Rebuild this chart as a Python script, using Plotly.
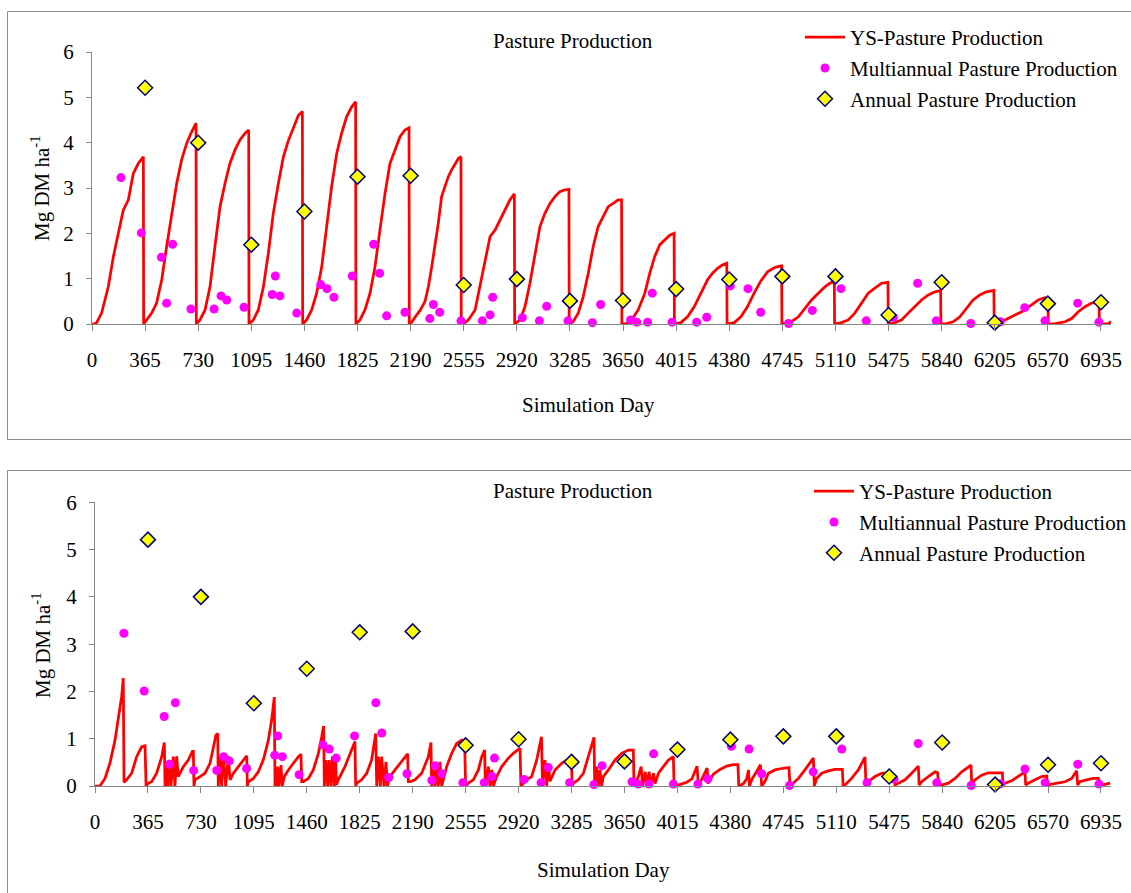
import plotly.graph_objects as go

# ---------------- data ----------------
x_ticks = [0, 365, 730, 1095, 1460, 1825, 2190, 2555, 2920, 3285, 3650,
           4015, 4380, 4745, 5110, 5475, 5840, 6205, 6570, 6935]

# YS-Pasture Production, upper panel (day, Mg DM/ha)
top_line_day = [0, 15, 32, 66, 112, 147, 181, 215, 250, 284, 318, 353, 355,
                376, 410, 444, 479, 513, 548, 582, 616, 651, 685, 715, 717,
                742, 777, 811, 845, 880, 914, 948, 983, 1017, 1052, 1077, 1079,
                1109, 1143, 1178, 1212, 1246, 1281, 1315, 1349, 1384, 1418, 1446, 1448,
                1475, 1510, 1544, 1579, 1613, 1647, 1682, 1716, 1750, 1785, 1812, 1814,
                1842, 1876, 1911, 1945, 1979, 2014, 2048, 2083, 2117, 2151, 2179, 2181,
                2200, 2220, 2255, 2289, 2312, 2335, 2357, 2380, 2403, 2426, 2449, 2472, 2495, 2518, 2536, 2538,
                2560, 2587, 2633, 2667, 2701, 2736, 2770, 2804, 2839, 2873, 2903, 2905,
                2942, 2976, 3010, 3045, 3079, 3113, 3148, 3182, 3216, 3251, 3278, 3280,
                3307, 3342, 3376, 3411, 3445, 3479, 3514, 3548, 3582, 3617, 3640, 3642,
                3674, 3708, 3754, 3800, 3834, 3868, 3903, 3937, 3971, 4001, 4003,
                4047, 4093, 4139, 4184, 4230, 4265, 4299, 4333, 4363, 4365,
                4414, 4460, 4505, 4551, 4597, 4643, 4689, 4720, 4740, 4742,
                4798, 4855, 4900, 4946, 4992, 5038, 5072, 5102, 5104,
                5152, 5198, 5243, 5289, 5335, 5381, 5427, 5471, 5473,
                5519, 5565, 5610, 5656, 5702, 5748, 5794, 5833, 5835,
                5873, 5919, 5965, 6011, 6056, 6102, 6148, 6199, 6201,
                6252, 6321, 6390, 6458, 6504, 6550, 6571, 6573,
                6619, 6688, 6733, 6779, 6825, 6871, 6922, 6924, 6940, 6986, 7004]
top_line_val = [0, 0, 0.03, 0.24, 0.82, 1.49, 2.0, 2.51, 2.74, 3.32, 3.54, 3.69, 0,
                0.09, 0.24, 0.46, 0.97, 1.71, 2.44, 3.1, 3.62, 3.99, 4.24, 4.43, 0,
                0.09, 0.31, 0.82, 1.71, 2.59, 3.1, 3.54, 3.84, 4.06, 4.21, 4.28, 0,
                0.09, 0.31, 0.82, 1.56, 2.44, 3.1, 3.68, 4.04, 4.34, 4.6, 4.69, 0,
                0.09, 0.31, 0.68, 1.26, 2.15, 3.03, 3.76, 4.21, 4.57, 4.79, 4.9, 0,
                0.09, 0.31, 0.68, 1.26, 2.07, 2.88, 3.54, 3.84, 4.13, 4.28, 4.33, 0,
                0.05, 0.15, 0.3, 0.5, 0.82, 1.26, 1.71, 2.22, 2.81, 3.03, 3.25, 3.4, 3.54, 3.65, 3.69, 0,
                0.02, 0.09, 0.31, 0.82, 1.41, 1.93, 2.07, 2.29, 2.51, 2.74, 2.87, 0,
                0.09, 0.38, 0.9, 1.56, 2.15, 2.44, 2.66, 2.81, 2.92, 2.96, 2.97, 0,
                0.05, 0.24, 0.6, 1.12, 1.71, 2.15, 2.37, 2.59, 2.66, 2.74, 2.74, 0,
                0.01, 0.09, 0.31, 0.68, 1.12, 1.49, 1.75, 1.85, 1.96, 2.0, 0,
                0.03, 0.16, 0.38, 0.68, 0.97, 1.12, 1.23, 1.3, 1.34, 0,
                0.03, 0.16, 0.38, 0.68, 0.95, 1.15, 1.24, 1.27, 1.28, 0,
                0.03, 0.16, 0.35, 0.53, 0.68, 0.82, 0.9, 0.95, 0,
                0.03, 0.09, 0.24, 0.46, 0.68, 0.79, 0.9, 0.92, 0,
                0.03, 0.09, 0.24, 0.38, 0.53, 0.64, 0.71, 0.74, 0,
                0.01, 0.05, 0.16, 0.35, 0.53, 0.64, 0.71, 0.74, 0,
                0.05, 0.16, 0.27, 0.42, 0.53, 0.58, 0.57, 0,
                0.01, 0.05, 0.12, 0.27, 0.38, 0.46, 0.48, 0, 0, 0.01, 0.05]

# YS-Pasture Production, lower panel (day, Mg DM/ha)
bottom_line_day = [0, 34, 69, 103, 138, 161, 184, 195, 200,
                   218, 253, 287, 322, 345, 352,
                   368, 391, 425, 460, 478, 483,
                   494, 501, 517, 524, 540, 551, 563, 574, 609, 643, 671, 678, 682,
                   689, 724, 758, 793, 816, 834, 846, 850,
                   862, 873, 885, 901, 919, 931, 954, 988, 1023, 1046, 1050,
                   1057, 1092, 1126, 1160, 1195, 1218, 1236, 1241,
                   1246, 1252, 1259, 1268, 1282, 1291, 1305, 1333, 1367, 1402, 1420, 1425,
                   1436, 1471, 1505, 1540, 1563, 1576, 1581,
                   1590, 1604, 1613, 1627, 1636, 1650, 1659, 1664, 1677, 1723, 1769, 1792, 1797,
                   1804, 1838, 1873, 1907, 1935, 1942,
                   1953, 1967, 1976, 1992, 2006, 2015, 2034, 2068, 2103, 2137, 2155, 2160,
                   2172, 2206, 2252, 2298, 2316, 2321,
                   2332, 2344, 2355, 2367, 2378, 2390, 2401, 2424, 2459, 2493, 2528, 2548, 2555,
                   2574, 2608, 2643, 2666, 2686, 2691,
                   2700, 2712, 2723, 2735, 2746,
                   2769, 2804, 2850, 2884, 2930, 2936,
                   2976, 3010, 3045, 3066, 3078, 3085,
                   3102, 3114, 3125, 3137, 3171, 3217, 3252, 3284, 3290,
                   3298, 3332, 3367, 3401, 3424, 3440, 3445,
                   3459, 3470, 3481, 3493, 3504, 3539, 3585, 3631, 3677, 3711, 3716,
                   3746, 3765, 3775, 3793, 3804, 3820, 3834, 3850, 3861, 3884, 3918, 3953, 3987, 3992,
                   4030, 4080, 4115, 4150, 4160, 4182, 4220, 4226, 4263, 4309, 4355, 4400, 4432, 4438,
                   4470, 4493, 4505, 4511, 4530, 4560, 4587, 4596,
                   4619, 4642, 4688, 4734, 4784, 4791,
                   4814, 4849, 4894, 4929, 4952, 4959,
                   4975, 5009, 5055, 5101, 5152, 5157,
                   5170, 5216, 5262, 5308, 5315,
                   5331, 5377, 5423, 5469, 5504, 5515,
                   5538, 5584, 5630, 5676, 5681,
                   5699, 5745, 5791, 5809, 5814,
                   5837, 5883, 5929, 5975, 6039, 6044,
                   6066, 6112, 6158, 6204, 6255, 6260,
                   6274, 6319, 6365, 6411, 6416,
                   6434, 6480, 6526, 6561, 6566,
                   6595, 6641, 6687, 6733, 6767, 6774,
                   6790, 6836, 6882, 6917, 6924,
                   6940, 6974, 6998]
bottom_line_val = [0, 0, 0.16, 0.48, 0.97, 1.4, 1.9, 2.28, 0.08,
                   0.13, 0.27, 0.62, 0.83, 0.85, 0,
                   0.06, 0.09, 0.27, 0.62, 0.92, 0,
                   0.48, 0, 0.55, 0, 0.62, 0, 0.63, 0.2, 0.41, 0.55, 0.73, 0.73, 0,
                   0.13, 0.2, 0.27, 0.48, 0.83, 1.08, 1.11, 0,
                   0.62, 0, 0.66, 0, 0.63, 0.13, 0.27, 0.41, 0.55, 0.64, 0,
                   0.09, 0.16, 0.3, 0.55, 0.97, 1.4, 1.88, 0,
                   0.37, 0, 0.41, 0, 0.44, 0, 0.2, 0.34, 0.48, 0.62, 0.67, 0.09,
                   0.09, 0.16, 0.34, 0.69, 1.04, 1.27, 0,
                   0.55, 0, 0.55, 0, 0.62, 0, 0.62, 0.02, 0.13, 0.41, 0.76, 0.94, 0,
                   0.06, 0.13, 0.27, 0.55, 1.11, 0,
                   0.62, 0, 0.62, 0, 0.51, 0, 0.2, 0.34, 0.48, 0.62, 0.68, 0.09,
                   0.09, 0.13, 0.27, 0.62, 0.92, 0,
                   0.34, 0, 0.41, 0, 0.51, 0, 0.13, 0.41, 0.69, 0.9, 0.97, 0.97, 0,
                   0.06, 0.13, 0.34, 0.62, 0.76, 0,
                   0.13, 0.41, 0, 0.34, 0,
                   0.2, 0.41, 0.59, 0.69, 0.8, 0,
                   0.13, 0.2, 0.55, 0.85, 1.04, 0,
                   0.55, 0, 0.48, 0.1, 0.34, 0.48, 0.55, 0.56, 0,
                   0.06, 0.13, 0.27, 0.62, 0.9, 1.03, 0,
                   0.41, 0, 0.34, 0, 0.2, 0.34, 0.55, 0.69, 0.76, 0.76, 0,
                   0.2, 0.41, 0, 0.3, 0, 0.3, 0, 0.27, 0.05, 0.27, 0.41, 0.55, 0.62, 0,
                   0.03, 0.08, 0.15, 0.42, 0, 0.15, 0.38, 0.05, 0.25, 0.35, 0.42, 0.45, 0.45, 0,
                   0.05, 0.15, 0.34, 0, 0.15, 0.3, 0.45, 0,
                   0.1, 0.27, 0.34, 0.37, 0.39, 0,
                   0.06, 0.16, 0.34, 0.48, 0.59, 0,
                   0.16, 0.27, 0.32, 0.35, 0.35, 0,
                   0.02, 0.16, 0.34, 0.61, 0,
                   0.09, 0.2, 0.27, 0.28, 0.23, 0.02,
                   0.06, 0.13, 0.27, 0.42, 0.02,
                   0.09, 0.2, 0.3, 0.28, 0.06,
                   0.02, 0.06, 0.16, 0.3, 0.44, 0.02,
                   0.13, 0.23, 0.28, 0.28, 0.28, 0.02,
                   0.06, 0.11, 0.2, 0.3, 0.02,
                   0.06, 0.13, 0.2, 0.21, 0.02,
                   0.04, 0.06, 0.09, 0.16, 0.32, 0.02,
                   0.09, 0.13, 0.16, 0.16, 0.02,
                   0.02, 0.04, 0.06]

# Multiannual Pasture Production (same in both panels)
multi_day = [199, 339, 477, 513, 554, 680, 839, 887, 926, 1045,
             1239, 1260, 1292, 1407, 1572, 1615, 1663, 1789, 1936, 1977,
             2025, 2151, 2322, 2346, 2390, 2536, 2683, 2736, 2754, 2958,
             3075, 3125, 3272, 3439, 3496, 3702, 3744, 3819, 3851, 3987,
             4156, 4225, 4387, 4509, 4596, 4788, 4951, 5148, 5322, 5508,
             5675, 5803, 6040, 6243, 6411, 6550, 6775, 6921]
multi_val = [3.23, 2.01, 1.47, 0.46, 1.76, 0.33, 0.33, 0.62, 0.53, 0.37,
             0.65, 1.06, 0.62, 0.24, 0.87, 0.78, 0.59, 1.06, 1.76, 1.12,
             0.18, 0.26, 0.12, 0.43, 0.26, 0.07, 0.07, 0.2, 0.59, 0.14,
             0.07, 0.39, 0.07, 0.03, 0.43, 0.09, 0.04, 0.04, 0.68, 0.04,
             0.04, 0.15, 0.84, 0.78, 0.26, 0.01, 0.3, 0.78, 0.07, 0.15,
             0.9, 0.07, 0.01, 0.05, 0.36, 0.07, 0.46, 0.04]

# Annual Pasture Production (same in both panels)
annual_day = [365, 730, 1095, 1460, 1825, 2190, 2555, 2920, 3285, 3650,
              4015, 4380, 4745, 5110, 5475, 5840, 6205, 6570, 6935]
annual_val = [5.21, 4.0, 1.75, 2.48, 3.25, 3.27, 0.86, 0.99, 0.51, 0.52,
              0.77, 0.98, 1.05, 1.05, 0.2, 0.92, 0.03, 0.45, 0.48]

assert len(top_line_day) == len(top_line_val)
assert len(bottom_line_day) == len(bottom_line_val)
assert len(multi_day) == len(multi_val)

# ---------------- layout helpers ----------------
W, H = 1131, 893
def fx(px):
    return px / W
def fy(py):
    return 1 - py / H

FONT = "Liberation Serif, Times New Roman, serif"
AX = "#868686"
RED = "#FF0000"
MAG = "#FF00FF"

fig = go.Figure()

panels = [("x", "y", top_line_day, top_line_val, "legend"),
          ("x2", "y2", bottom_line_day, bottom_line_val, "legend2")]
for xa, ya, ld, lv, lg in panels:
    fig.add_trace(go.Scatter(x=ld, y=lv, mode="lines", name="YS-Pasture Production",
                             line=dict(color=RED, width=2.75), xaxis=xa, yaxis=ya,
                             legend=lg, legendgroup=lg + "a", cliponaxis=False))
    fig.add_trace(go.Scatter(x=multi_day, y=multi_val, mode="markers",
                             name="Multiannual Pasture Production",
                             marker=dict(color=MAG, size=9, line=dict(width=0)),
                             xaxis=xa, yaxis=ya, legend=lg, legendgroup=lg + "b",
                             cliponaxis=False))
    fig.add_trace(go.Scatter(x=annual_day, y=annual_val, mode="markers",
                             name="Annual Pasture Production",
                             marker=dict(color="#FFFF00", symbol="diamond", size=11.5,
                                         line=dict(color="#000080", width=1.5)),
                             xaxis=xa, yaxis=ya, legend=lg, legendgroup=lg + "c",
                             cliponaxis=False))

xcommon = dict(range=[0, 7005], tickvals=x_ticks, showline=True, linecolor=AX, linewidth=1,
               ticks="outside", ticklen=6, tickcolor=AX, tickwidth=1, showgrid=False,
               zeroline=False, tickfont=dict(family=FONT, size=21, color="black"),
               ticklabelstandoff=11)
ycommon = dict(range=[0, 6], dtick=1, showline=True, linecolor=AX, linewidth=1,
               ticks="outside", ticklen=5, tickcolor=AX, tickwidth=1, showgrid=False,
               zeroline=False, tickfont=dict(family=FONT, size=21, color="black"),
               ticklabelstandoff=8)

legcommon = dict(font=dict(family=FONT, size=21, color="black"), bgcolor="rgba(0,0,0,0)",
                 xanchor="left", yanchor="top", tracegroupgap=0.5, itemwidth=40,
                 borderwidth=0)

def label(text, px, py, angle=0):
    return dict(text=text, x=fx(px), y=fy(py), xref="paper", yref="paper",
                xanchor="center", yanchor="middle", showarrow=False, textangle=angle,
                font=dict(family=FONT, size=21, color="black"))

fig.update_layout(
    width=W, height=H, margin=dict(l=0, r=0, t=0, b=0, autoexpand=False),
    paper_bgcolor="white", plot_bgcolor="rgba(0,0,0,0)",
    xaxis=dict(domain=[fx(92), fx(92 + 7005 * 0.14549)], anchor="y", **xcommon),
    yaxis=dict(domain=[fy(324), fy(52)], anchor="x", **ycommon),
    xaxis2=dict(domain=[fx(95), fx(95 + 7005 * 0.14506)], anchor="y2", **xcommon),
    yaxis2=dict(domain=[fy(786), fy(502.3)], anchor="x2", **ycommon),
    legend=dict(x=fx(800), y=fy(17), **legcommon),
    legend2=dict(x=fx(809), y=fy(471), **legcommon),
    showlegend=True,
    shapes=[
        dict(type="rect", xref="paper", yref="paper", x0=fx(7.5), x1=1.05,
             y0=fy(439.5), y1=fy(11.5), line=dict(color="#8c8c8c", width=1)),
        dict(type="rect", xref="paper", yref="paper", x0=fx(7.5), x1=1.05,
             y0=-0.05, y1=fy(470.5), line=dict(color="#8c8c8c", width=1)),
    ],
    annotations=[
        label("Pasture Production", 573, 41),
        label("Pasture Production", 573, 491),
        label("Simulation Day", 588.5, 405),
        label("Simulation Day", 603, 870),
        label("Mg DM ha<sup>-1</sup>", 40, 188, -90),
        label("Mg DM ha<sup>-1</sup>", 41, 645, -90),
    ],
)

fig.write_html("out.html", config={"displayModeBar": False},
               post_script="document.body.style.margin='0';")
